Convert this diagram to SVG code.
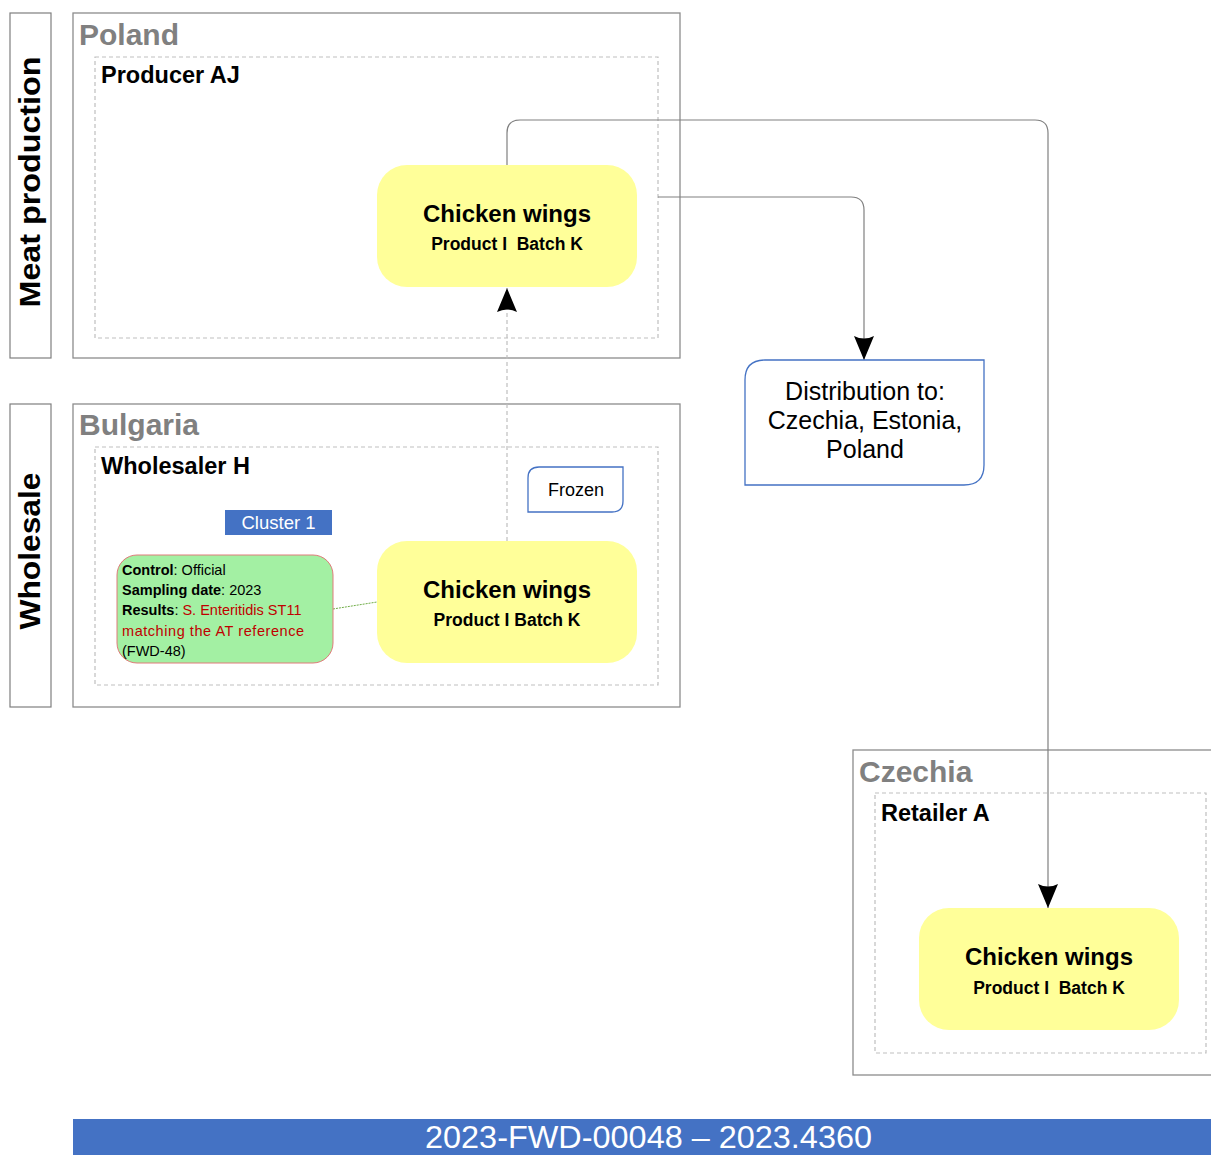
<svg xmlns="http://www.w3.org/2000/svg" width="1211" height="1155" viewBox="0 0 1211 1155">
<defs>
<style>
text{font-family:"Liberation Sans",Arial,sans-serif;}
.lane{fill:#fff;stroke:#7f7f7f;stroke-width:1.2;}
.country{fill:#fff;stroke:#8c8c8c;stroke-width:1.3;}
.org{fill:none;stroke:#bfbfbf;stroke-width:1.2;stroke-dasharray:4,3;}
.ctitle{font-size:30px;font-weight:bold;fill:#808080;}
.otitle{font-size:23.5px;font-weight:bold;fill:#000;}
.lanet{font-size:30px;font-weight:bold;fill:#000;}
.prod{fill:#ffff99;}
.pt{font-size:24px;font-weight:bold;text-anchor:middle;fill:#000;}
.ps{font-size:17.5px;font-weight:bold;text-anchor:middle;fill:#000;white-space:pre;}
.conn{fill:none;stroke:#808080;stroke-width:1.2;}
.info{fill:#fff;stroke:#4472c4;stroke-width:1.3;}
.note{font-size:14.5px;fill:#000;}
.red{fill:#c00000;}
</style>
<marker id="arr" viewBox="0 0 24 20" refX="24" refY="10" markerWidth="24" markerHeight="20" markerUnits="userSpaceOnUse" orient="auto">
<path d="M0,0 Q5,10 0,20 L24,10 Z" fill="#000"/>
</marker>
</defs>
<rect width="1211" height="1155" fill="#fff"/>

<g id="lane-meat">
<rect class="lane" x="10" y="13" width="41" height="345"/>
<text class="lanet" transform="translate(40,182) rotate(-90)" text-anchor="middle" textLength="251" lengthAdjust="spacingAndGlyphs">Meat production</text>
</g>
<g id="lane-wholesale">
<rect class="lane" x="10" y="404" width="41" height="303"/>
<text class="lanet" transform="translate(40,551) rotate(-90)" text-anchor="middle" textLength="157" lengthAdjust="spacingAndGlyphs">Wholesale</text>
</g>

<g id="poland">
<rect class="country" x="73" y="13" width="607" height="345"/>
<text class="ctitle" x="79" y="45">Poland</text>
</g>
<g id="producer-aj">
<rect class="org" x="95" y="57" width="563" height="281"/>
<text class="otitle" x="101" y="83">Producer AJ</text>
</g>
<g id="bulgaria">
<rect class="country" x="73" y="404" width="607" height="303"/>
<text class="ctitle" x="79" y="435">Bulgaria</text>
</g>
<g id="wholesaler-h">
<rect class="org" x="95" y="447" width="563" height="238"/>
<text class="otitle" x="101" y="474">Wholesaler H</text>
</g>
<g id="czechia">
<rect class="country" x="853" y="750" width="362" height="325"/>
<text class="ctitle" x="859" y="782">Czechia</text>
</g>
<g id="retailer-a">
<rect class="org" x="875" y="793" width="331" height="260"/>
<text class="otitle" x="881" y="821">Retailer A</text>
</g>

<g id="connectors">
<path class="conn" d="M507,165 V133 Q507,120 520,120 H1035 Q1048,120 1048,133 V908" marker-end="url(#arr)"/>
<path class="conn" d="M658,197 H851 Q864,197 864,210 V360" marker-end="url(#arr)"/>
<path fill="none" stroke="#bfbfbf" stroke-width="1.2" stroke-dasharray="4,3" d="M507,541 V288" marker-end="url(#arr)"/>
<path fill="none" stroke="#70ad47" stroke-width="1" stroke-dasharray="2,1" d="M333,609 L377,602"/>
</g>

<g id="node-poland">
<rect class="prod" x="377" y="165" width="260" height="122" rx="30"/>
<text class="pt" x="507" y="222">Chicken wings</text>
<text class="ps" x="507" y="250">Product I  Batch K</text>
</g>
<g id="node-bulgaria">
<rect class="prod" x="377" y="541" width="260" height="122" rx="30"/>
<text class="pt" x="507" y="598">Chicken wings</text>
<text class="ps" x="507" y="626">Product I Batch K</text>
</g>
<g id="node-czechia">
<rect class="prod" x="919" y="908" width="260" height="122" rx="30"/>
<text class="pt" x="1049" y="965">Chicken wings</text>
<text class="ps" x="1049" y="994">Product I  Batch K</text>
</g>

<g id="distribution">
<path class="info" d="M765,360 H984 V465 Q984,485 964,485 H745 V380 Q745,360 765,360 Z"/>
<text x="865" y="400" font-size="25" text-anchor="middle">Distribution to:</text>
<text x="865" y="429" font-size="25" text-anchor="middle">Czechia, Estonia,</text>
<text x="865" y="458" font-size="25" text-anchor="middle">Poland</text>
</g>

<g id="frozen">
<path class="info" d="M539,467 H623 V501 Q623,512 612,512 H528 V478 Q528,467 539,467 Z"/>
<text x="576" y="496" font-size="18" text-anchor="middle">Frozen</text>
</g>

<g id="cluster">
<rect x="225" y="510" width="107" height="25" fill="#4472c4"/>
<text x="278.5" y="529" font-size="18.5" fill="#fff" text-anchor="middle">Cluster 1</text>
</g>

<g id="note">
<rect x="117" y="555" width="216" height="108" rx="20" fill="#a3f0a3" stroke="#e07a7a" stroke-width="1"/>
<text class="note" x="122" y="575"><tspan font-weight="bold">Control</tspan>: Official</text>
<text class="note" x="122" y="595"><tspan font-weight="bold">Sampling date</tspan>: 2023</text>
<text class="note" x="122" y="615"><tspan font-weight="bold">Results</tspan>: <tspan class="red">S. Enteritidis ST11</tspan></text>
<text class="note red" x="122" y="636" textLength="182" lengthAdjust="spacing">matching the AT reference</text>
<text class="note" x="122" y="656">(FWD-48)</text>
</g>

<g id="footer">
<rect x="73" y="1119" width="1138" height="36" fill="#4472c4"/>
<text x="425" y="1148" font-size="32" fill="#fff" textLength="447" lengthAdjust="spacingAndGlyphs">2023-FWD-00048 – 2023.4360</text>
</g>
</svg>
